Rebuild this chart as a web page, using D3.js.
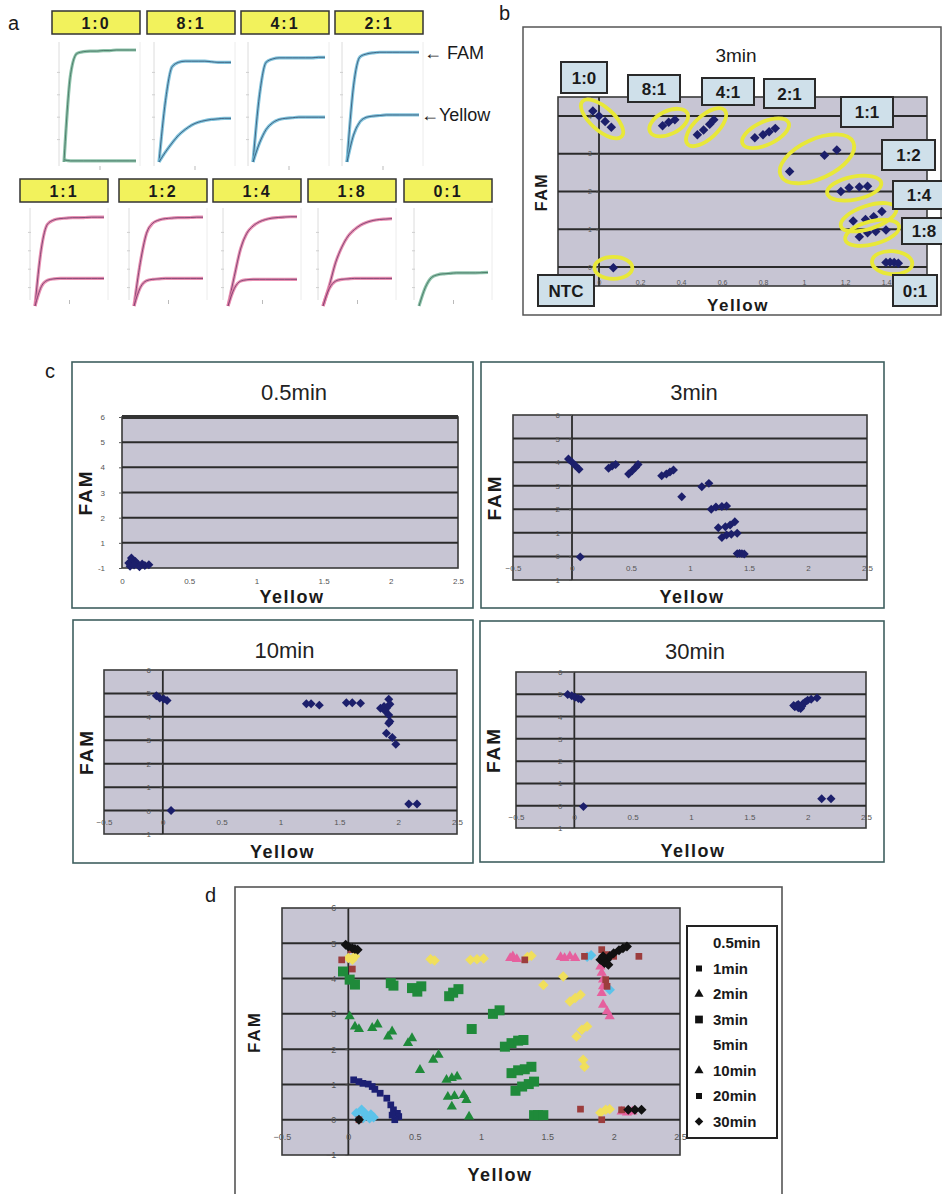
<!DOCTYPE html>
<html>
<head>
<meta charset="utf-8">
<script src="https://cdnjs.cloudflare.com/ajax/libs/d3/7.8.5/d3.min.js"></script>
<style>
  body { margin: 0; background: #fff; }
  svg { display: block; font-family: "Liberation Sans", Arial, sans-serif; }
</style>
</head>
<body>
<svg id="fig" width="942" height="1194"></svg>
<script>
// ---- panel a : amplification curves (normalised fluorescence, 12 reads) ----
const ratiosTop = ['1:0', '8:1', '4:1', '2:1'];
const ratiosBottom = ['1:1', '1:2', '1:4', '1:8', '0:1'];

const famTop = [
  [0, 0.78, 0.97, 0.985, 0.99, 0.99, 0.995, 0.995, 1, 1, 1, 1],
  [0, 0.55, 0.85, 0.89, 0.9, 0.9, 0.9, 0.9, 0.895, 0.89, 0.89, 0.89],
  [0, 0.6, 0.89, 0.92, 0.93, 0.93, 0.93, 0.93, 0.93, 0.93, 0.935, 0.935],
  [0, 0.68, 0.94, 0.965, 0.975, 0.98, 0.98, 0.98, 0.98, 0.98, 0.98, 0.98]
];
const yellowTop = [
  [0.02, 0.01, 0.01, 0.01, 0.01, 0.01, 0.01, 0.01, 0.01, 0.01, 0.01, 0.01],
  [0, 0.09, 0.17, 0.24, 0.29, 0.33, 0.355, 0.37, 0.38, 0.385, 0.39, 0.39],
  [0, 0.17, 0.29, 0.35, 0.38, 0.39, 0.395, 0.4, 0.4, 0.4, 0.4, 0.4],
  [0, 0.24, 0.36, 0.4, 0.41, 0.415, 0.42, 0.42, 0.42, 0.42, 0.42, 0.42]
];
const famBottom = [
  [0, 0.62, 0.89, 0.935, 0.95, 0.955, 0.96, 0.96, 0.962, 0.965, 0.965, 0.965],
  [0, 0.47, 0.79, 0.9, 0.935, 0.95, 0.955, 0.96, 0.96, 0.962, 0.965, 0.965],
  [0, 0.32, 0.62, 0.79, 0.87, 0.915, 0.94, 0.955, 0.962, 0.967, 0.97, 0.97],
  [0, 0.22, 0.47, 0.64, 0.76, 0.83, 0.88, 0.91, 0.93, 0.94, 0.945, 0.95],
  null
];
const yellowBottom = [
  [0, 0.21, 0.28, 0.295, 0.3, 0.3, 0.3, 0.3, 0.3, 0.3, 0.3, 0.3],
  [0, 0.2, 0.275, 0.29, 0.295, 0.3, 0.3, 0.3, 0.3, 0.3, 0.3, 0.3],
  [0, 0.19, 0.27, 0.285, 0.29, 0.29, 0.29, 0.29, 0.29, 0.29, 0.29, 0.29],
  [0, 0.19, 0.27, 0.29, 0.295, 0.3, 0.3, 0.3, 0.3, 0.3, 0.3, 0.3],
  [0, 0.2, 0.31, 0.34, 0.35, 0.355, 0.36, 0.36, 0.36, 0.36, 0.362, 0.365]
];

// ---- panel b / c : end-point scatter (Yellow, FAM) ----
const scatter05 = [[0.05, 0.2], [0.07, 0.4], [0.1, 0.26], [0.12, 0.13], [0.15, 0.16], [0.17, 0.1],
  [0.2, 0.13], [0.06, 0.07], [0.09, 0.12], [0.13, 0.05]];

const scatter3min = [
  [-0.03, 4.13, '1:0'], [0.0, 4.0, '1:0'], [0.03, 3.85, '1:0'], [0.06, 3.7, '1:0'],
  [0.31, 3.74, '8:1'], [0.34, 3.83, '8:1'], [0.37, 3.9, '8:1'],
  [0.48, 3.5, '4:1'], [0.51, 3.63, '4:1'], [0.54, 3.78, '4:1'], [0.56, 3.9, '4:1'],
  [0.76, 3.42, '2:1'], [0.8, 3.5, '2:1'], [0.83, 3.58, '2:1'], [0.86, 3.67, '2:1'],
  [0.93, 2.53, '1:1'], [1.1, 2.96, '1:1'], [1.16, 3.1, '1:1'],
  [1.18, 2.0, '1:2'], [1.22, 2.1, '1:2'], [1.27, 2.12, '1:2'], [1.31, 2.14, '1:2'],
  [1.24, 1.22, '1:4'], [1.3, 1.26, '1:4'], [1.34, 1.33, '1:4'], [1.38, 1.47, '1:4'],
  [1.27, 0.8, '1:8'], [1.31, 0.91, '1:8'], [1.35, 0.94, '1:8'], [1.4, 0.98, '1:8'],
  [1.4, 0.12, '0:1'], [1.42, 0.13, '0:1'], [1.44, 0.12, '0:1'], [1.46, 0.1, '0:1'],
  [0.07, -0.02, 'NTC']
];

const scatter10 = [[-0.055, 4.9], [-0.026, 4.8], [0.008, 4.76], [0.036, 4.7], [0.07, 0.0],
  [1.22, 4.56], [1.26, 4.56], [1.33, 4.5], [1.56, 4.6], [1.61, 4.6], [1.68, 4.58],
  [1.92, 4.75], [1.93, 4.54], [1.9, 4.37], [1.85, 4.37], [1.88, 4.44], [1.89, 4.25], [1.92, 4.08],
  [1.93, 3.8], [1.92, 3.73], [1.9, 3.3], [1.95, 3.12], [1.98, 2.83], [2.09, 0.28], [2.16, 0.28]];

const scatter30 = [[-0.057, 4.99], [-0.022, 4.93], [0.006, 4.87], [0.035, 4.81], [0.058, 4.78], [0.078, -0.04],
  [1.89, 4.44], [1.91, 4.51], [1.92, 4.54], [1.94, 4.36], [1.96, 4.58], [1.98, 4.66], [2.0, 4.73],
  [2.03, 4.78], [2.08, 4.84], [1.88, 4.5], [1.92, 4.4], [1.95, 4.46], [2.12, 0.31], [2.2, 0.31]];

// ---- panel d : all time points ----
const dSeries = ['0.5min', '1min', '2min', '3min', '5min', '10min', '20min', '30min'];
const d05 = [[0.06, 0.18], [0.1, 0.28], [0.14, 0.13], [0.16, 0.04], [0.11, 0.04], [0.08, 0.01], [0.19, 0.07],
  [0.12, 0.2], [0.17, 0.15], [1.8, 4.62], [1.83, 4.66], [1.97, 3.68]];
const d1 = [[0.04, 1.13], [0.08, 1.08], [0.11, 1.03], [0.15, 1.01], [0.18, 0.94], [0.2, 0.86], [0.24, 0.75],
  [0.29, 0.61], [0.32, 0.42], [0.34, 0.28], [0.37, 0.18], [0.38, 0.09], [0.35, 0.0], [0.33, 0.13]];
const d2 = [[0.01, 2.93], [0.05, 2.64], [0.08, 2.57], [0.18, 2.6], [0.22, 2.7], [0.3, 2.36], [0.33, 2.5],
  [0.45, 2.17], [0.48, 2.31], [0.54, 1.41], [0.64, 1.7], [0.68, 1.84], [0.74, 1.13], [0.78, 1.18], [0.82, 1.22],
  [0.75, 0.65], [0.8, 0.67], [0.87, 0.7], [0.89, 0.56], [0.78, 0.37], [0.91, 0.09]];
const d3min = [[-0.04, 4.2], [0.01, 3.97], [0.05, 3.83], [0.32, 3.87], [0.34, 3.8], [0.48, 3.73], [0.52, 3.63],
  [0.55, 3.78], [0.76, 3.5], [0.79, 3.6], [0.83, 3.7], [0.93, 2.57], [1.09, 3.0], [1.14, 3.1], [1.18, 2.07],
  [1.23, 2.17], [1.28, 2.24], [1.32, 2.26], [1.23, 1.32], [1.28, 1.4], [1.33, 1.43], [1.38, 1.5], [1.26, 0.82],
  [1.31, 0.94], [1.36, 1.01], [1.4, 1.08], [1.4, 0.13], [1.43, 0.13], [1.47, 0.13]];
const d5 = [[0.0, 4.58], [0.03, 4.53], [0.05, 4.63], [0.62, 4.55], [0.65, 4.51], [0.92, 4.53], [0.97, 4.55],
  [1.02, 4.57], [1.35, 4.61], [1.38, 4.65], [1.62, 4.06], [1.47, 3.82], [1.67, 3.35], [1.71, 3.45], [1.75, 3.54],
  [1.72, 2.36], [1.76, 2.55], [1.8, 2.64], [1.77, 1.7], [1.78, 1.5], [1.9, 0.2], [1.94, 0.28], [1.97, 0.3]];
const d10 = [[1.22, 4.58], [1.24, 4.63], [1.27, 4.55], [1.6, 4.61], [1.63, 4.58], [1.67, 4.63], [1.71, 4.58],
  [1.9, 4.34], [1.91, 4.16], [1.92, 3.97], [1.92, 3.78], [1.91, 3.59], [1.92, 3.26], [1.95, 3.07], [1.97, 2.93],
  [2.06, 0.23], [2.1, 0.2], [2.14, 0.23]];
const d20 = [[-0.05, 4.53], [0.03, 4.27], [0.02, 4.82], [1.33, 4.53], [1.78, 4.63], [1.75, 0.3], [1.91, 0.0],
  [1.91, 4.82], [1.95, 4.68], [2.0, 4.63], [1.94, 3.97], [1.95, 3.78], [2.19, 4.63], [2.06, 0.28], [0.08, 0.0]];
const d30 = [[-0.02, 4.96], [0.0, 4.91], [0.03, 4.86], [0.05, 4.84], [0.07, 4.82], [0.08, 0.0], [1.9, 4.53],
  [1.92, 4.49], [1.93, 4.44], [1.95, 4.53], [1.97, 4.63], [2.0, 4.72], [2.04, 4.8], [2.07, 4.86], [2.1, 4.91],
  [1.92, 4.63], [1.96, 4.39], [2.11, 0.28], [2.16, 0.28], [2.21, 0.28]];

const xTicksC = [-0.5, 0, 0.5, 1, 1.5, 2, 2.5];
const xTicks05 = [0, 0.5, 1, 1.5, 2, 2.5];
const yTicksC = [-1, 0, 1, 2, 3, 4, 5, 6];
const yLabels05 = ['-1', '1', '2', '3', '4', '5', '6'];
const xTicksB = [0, 0.2, 0.4, 0.6, 0.8, 1, 1.2, 1.4];

// ---- styles ----
const svg = d3.select('#fig');
const PLOT_FILL = '#c7c5d3';
const GRID = '#2b2b2b';
const DOT = '#1c1f6b';
const dColors = ['#5cc3ea', '#1b1f73', '#1f8a3a', '#1f8a3a', '#f0df5c', '#e6609e', '#9c3d3d', '#111111'];
const dSymbols = ['diamond', 'square', 'triangle', 'square', 'diamond', 'triangle', 'square', 'diamond'];
const dSizes = [55, 45, 45, 100, 55, 45, 45, 50];
const legendMarks = [null, 'square', 'triangle', 'square', null, 'triangle', 'square', 'diamond'];
// Excel style diamond = square turned 45 degrees
const symbolMap = { square: d3.symbolSquare, triangle: d3.symbolTriangle, diamond: d3.symbolSquare };
const symbolTurn = { square: 0, triangle: 0, diamond: 45 };

function label(g, txt, x, y, size, opts = {}) {
  const t = g.append('text').text(txt).attr('x', x).attr('y', y)
    .attr('font-size', size).attr('fill', opts.fill || '#1a1a1a')
    .attr('text-anchor', opts.anchor || 'start')
    .attr('font-weight', opts.bold ? 'bold' : 'normal');
  if (opts.spacing) t.attr('letter-spacing', opts.spacing);
  if (opts.rotate) t.attr('transform', `rotate(-90,${x},${y})`);
  return t;
}

// panel letters
label(svg, 'a', 8, 30, 20);
label(svg, 'b', 499, 20, 20);
label(svg, 'c', 45, 378, 20);
label(svg, 'd', 205, 902, 20);

// ================= panel a =================
const ga = svg.append('g');
function ampPanel(name, boxX, boxY, fam, yel, layout, colour) {
  ga.append('rect').attr('x', boxX).attr('y', boxY).attr('width', 88).attr('height', 23)
    .attr('fill', '#f2f25c').attr('stroke', '#333').attr('stroke-width', 1.5);
  label(ga, name, boxX + 44, boxY + 18, 16, { anchor: 'middle', bold: true, spacing: 2 });

  const x0 = boxX + layout.dx0, x1 = boxX + layout.dx1;
  const x = d3.scaleLinear().domain([0, 11]).range([x0, x1]);
  const y = d3.scaleLinear().domain([0, 1]).range([layout.base, layout.top]);
  // faint frame of the small chart
  ga.append('line').attr('x1', x0 - 5).attr('x2', x0 - 5).attr('y1', layout.frameTop).attr('y2', layout.frameBot)
    .attr('stroke', '#dcdcdc');
  ga.append('line').attr('x1', x1 + 4).attr('x2', x1 + 4).attr('y1', layout.frameTop).attr('y2', layout.frameBot)
    .attr('stroke', '#ececec');
  ga.selectAll(null).data([0.2, 0.4, 0.6, 0.8]).join('line')
    .attr('x1', x0 - 7).attr('x2', x0 - 4).attr('y1', d => y(d)).attr('y2', d => y(d))
    .attr('stroke', '#cfcfcf');
  ga.append('line').attr('x1', (x0 + x1) / 2).attr('x2', (x0 + x1) / 2)
    .attr('y1', layout.frameBot).attr('y2', layout.frameBot + 4).attr('stroke', '#bbb');

  const line = d3.line().x((d, i) => x(i)).y(d => y(d)).curve(d3.curveMonotoneX);
  [fam, yel].filter(s => s).forEach(s => {
    ga.append('path').attr('d', line(s)).attr('fill', 'none')
      .attr('stroke', colour[0]).attr('stroke-width', 3.2).attr('opacity', 0.85);
    ga.append('path').attr('d', line(s)).attr('fill', 'none')
      .attr('stroke', colour[1]).attr('stroke-width', 1).attr('opacity', 0.8);
  });
}
const BLUE = ['#6cb8d6', '#2f4f6f'], GREEN = ['#7ab89c', '#3d6b5a'], PINK = ['#e47ea6', '#6b3566'];
const topLayout = { dx0: 12, dx1: 84, base: 162, top: 50, frameTop: 42, frameBot: 166 };
const botLayout = { dx0: 15, dx1: 84, base: 306, top: 214, frameTop: 208, frameBot: 300 };
const topBoxX = [52, 147, 241, 335];
const botBoxX = [20, 119, 213, 308, 404];
ratiosTop.forEach((r, i) => ampPanel(r, topBoxX[i], 11, famTop[i], yellowTop[i], topLayout, i === 0 ? GREEN : BLUE));
ratiosBottom.forEach((r, i) => ampPanel(r, botBoxX[i], 179, famBottom[i], yellowBottom[i], botLayout, i === 4 ? GREEN : PINK));
label(ga, '\u2190 FAM', 424, 59, 18);
label(ga, '\u2190Yellow', 421, 121, 18);

// ================= scatter helper =================
function scatterPlot(g, o) {
  const x = d3.scaleLinear().domain(o.xDom).range([o.left, o.right]);
  const y = d3.scaleLinear().domain(o.yDom).range([o.bottom, o.top]);
  g.append('rect').attr('x', o.left).attr('y', o.top).attr('width', o.right - o.left)
    .attr('height', o.bottom - o.top).attr('fill', PLOT_FILL).attr('stroke', '#3a3a3a').attr('stroke-width', 1.6);
  g.selectAll(null).data(o.grid).join('line')
    .attr('x1', o.left).attr('x2', o.right).attr('y1', d => y(d)).attr('y2', d => y(d))
    .attr('stroke', GRID).attr('stroke-width', 2);
  if (o.thickTop) {
    g.append('line').attr('x1', o.left).attr('x2', o.right).attr('y1', o.top).attr('y2', o.top)
      .attr('stroke', '#333').attr('stroke-width', 4);
  }
  const yAxisX = o.xDom[0] < 0 ? x(0) : o.left;
  if (o.xDom[0] < 0) {
    g.append('line').attr('x1', yAxisX).attr('x2', yAxisX).attr('y1', o.top).attr('y2', o.bottom)
      .attr('stroke', GRID).attr('stroke-width', 1.8);
  }
  // axes (labels only, small grey as in the scan)
  const ax = g.append('g').attr('transform', `translate(0,${o.xLabelY})`)
    .call(d3.axisBottom(x).tickValues(o.xTicks).tickSize(0).tickPadding(0)
      .tickFormat(o.xFormat || d3.format('')));
  const ay = g.append('g').attr('transform', `translate(${yAxisX},0)`)
    .call(d3.axisLeft(y).tickValues(o.yTicks).tickSize(o.yTickSize || 3).tickPadding(o.yPad || 4)
      .tickFormat(o.yFormat || d3.format('')));
  [ax, ay].forEach(a => {
    a.select('.domain').remove();
    a.selectAll('text').attr('font-size', o.tickFont || 8).attr('fill', '#555')
      .attr('font-family', '"Liberation Sans", Arial, sans-serif');
    a.selectAll('line').attr('stroke', '#555');
  });
  ax.selectAll('text').attr('dy', '0.35em');
  return { x, y };
}

function dots(g, sc, pts, colour, sym, size) {
  g.selectAll(null).data(pts).join('path')
    .attr('d', d3.symbol().type(symbolMap[sym]).size(size))
    .attr('transform', d => `translate(${sc.x(d[0])},${sc.y(d[1])}) rotate(${symbolTurn[sym]})`)
    .attr('fill', colour);
}

// ================= panel b =================
const gb = svg.append('g');
gb.append('rect').attr('x', 523).attr('y', 27).attr('width', 418).attr('height', 288)
  .attr('fill', '#fff').attr('stroke', '#555').attr('stroke-width', 1.5);
label(gb, '3min', 736, 62, 19, { anchor: 'middle' });
const sb = scatterPlot(gb, {
  left: 558, right: 927, top: 97, bottom: 286, xDom: [-0.2, 1.6], yDom: [-0.5, 4.5],
  grid: [0, 1, 2, 3, 4], xTicks: xTicksB, yTicks: [0, 1, 2, 3, 4], xLabelY: 283, tickFont: 7
});
dots(gb, sb, scatter3min, DOT, 'diamond', 45);
// yellow ellipses round each ratio cluster
d3.groups(scatter3min, d => d[2]).forEach(([name, pts]) => {
  const px = pts.map(p => [sb.x(p[0]), sb.y(p[1])]);
  const cx = d3.mean(px, p => p[0]), cy = d3.mean(px, p => p[1]);
  let ang = 0, rx = 19, ry = 11;
  if (px.length > 1) {
    let best = [px[0], px[1]], bd = 0;
    px.forEach(a => px.forEach(b => {
      const dd = Math.hypot(a[0] - b[0], a[1] - b[1]);
      if (dd > bd) { bd = dd; best = a[0] < b[0] ? [a, b] : [b, a]; }
    }));
    ang = Math.atan2(best[1][1] - best[0][1], best[1][0] - best[0][0]) * 180 / Math.PI;
    rx = bd / 2 + 14; ry = Math.max(11.5, bd * 0.38);
  }
  gb.append('ellipse').attr('cx', cx).attr('cy', cy).attr('rx', rx).attr('ry', ry)
    .attr('transform', `rotate(${ang},${cx},${cy})`)
    .attr('fill', 'none').attr('stroke', '#e8e838').attr('stroke-width', 3.8);
});
const bBoxes = [
  { t: '1:0', x: 561, y: 62, w: 46, h: 31 }, { t: '8:1', x: 628, y: 75, w: 52, h: 27 },
  { t: '4:1', x: 702, y: 78, w: 52, h: 27 }, { t: '2:1', x: 764, y: 79, w: 51, h: 29 },
  { t: '1:1', x: 841, y: 97, w: 52, h: 30 }, { t: '1:2', x: 882, y: 140, w: 53, h: 30 },
  { t: '1:4', x: 893, y: 181, w: 52, h: 28 }, { t: '1:8', x: 902, y: 218, w: 44, h: 26 },
  { t: '0:1', x: 893, y: 275, w: 44, h: 31 }, { t: 'NTC', x: 538, y: 275, w: 56, h: 31 }
];
bBoxes.forEach(b => {
  gb.append('rect').attr('x', b.x).attr('y', b.y).attr('width', b.w).attr('height', b.h)
    .attr('fill', '#cfe0ea').attr('stroke', '#2a2a2a').attr('stroke-width', 2);
  label(gb, b.t, b.x + b.w / 2, b.y + b.h / 2 + 6, 17, { anchor: 'middle', bold: true });
});
label(gb, 'FAM', 547, 192, 16, { anchor: 'middle', bold: true, rotate: true, spacing: 1.5 });
label(gb, 'Yellow', 738, 311, 17, { anchor: 'middle', bold: true, spacing: 1.5 });

// ================= panel c =================
function cPanel(box, title, plot, pts, extra) {
  const g = svg.append('g');
  g.append('rect').attr('x', box[0]).attr('y', box[1]).attr('width', box[2] - box[0]).attr('height', box[3] - box[1])
    .attr('fill', '#fff').attr('stroke', '#3f5f5f').attr('stroke-width', 1.6);
  label(g, title, (plot.left + plot.right) / 2 + 4, box[1] + 38, 22, { anchor: 'middle', fill: '#222' });
  const sc = scatterPlot(g, Object.assign({}, plot, extra));
  dots(g, sc, pts, DOT, 'diamond', 40);
  label(g, 'FAM', box[0] + 20, (plot.top + plot.bottom) / 2, 19, { anchor: 'middle', bold: true, rotate: true, spacing: 2 });
  label(g, 'Yellow', (plot.left + plot.right) / 2 + 2, box[3] - 5, 18, { anchor: 'middle', bold: true, spacing: 1.5 });
}
const cCommon = { xDom: [-0.5, 2.5], yDom: [-1, 6], grid: [0, 1, 2, 3, 4, 5], xTicks: xTicksC, yTicks: yTicksC, yTickSize: 0, yPad: 9, tickFont: 8 };
cPanel([72, 362, 473, 608], '0.5min', { left: 122, right: 458, top: 417, bottom: 568 }, scatter05,
  { xDom: [0, 2.5], yDom: [0, 6], grid: [1, 2, 3, 4, 5], xTicks: xTicks05, yTicks: [0, 1, 2, 3, 4, 5, 6],
    yFormat: (d, i) => yLabels05[i], yTickSize: 0, yPad: 14, xLabelY: 581, thickTop: true, tickFont: 8 });
cPanel([481, 362, 884, 608], '3min', { left: 513, right: 867, top: 415, bottom: 580 }, scatter3min,
  Object.assign({}, cCommon, { xLabelY: 568 }));
cPanel([73, 620, 473, 863], '10min', { left: 104, right: 457, top: 670, bottom: 834 }, scatter10,
  Object.assign({}, cCommon, { xLabelY: 822 }));
cPanel([480, 621, 884, 862], '30min', { left: 516, right: 866, top: 672, bottom: 828 }, scatter30,
  Object.assign({}, cCommon, { xLabelY: 817 }));

// ================= panel d =================
const gd = svg.append('g');
gd.append('rect').attr('x', 235).attr('y', 887).attr('width', 547).attr('height', 320)
  .attr('fill', '#fff').attr('stroke', '#555').attr('stroke-width', 1.6);
const sd = scatterPlot(gd, Object.assign({}, cCommon, {
  left: 282, right: 680, top: 908, bottom: 1155, xLabelY: 1137, tickFont: 9
}));
[d05, d1, d2, d3min, d5, d10, d20, d30].forEach((pts, i) => dots(gd, sd, pts, dColors[i], dSymbols[i], dSizes[i]));
label(gd, 'FAM', 260, 1032, 17, { anchor: 'middle', bold: true, rotate: true, spacing: 2 });
label(gd, 'Yellow', 500, 1181, 18, { anchor: 'middle', bold: true, spacing: 1.5 });

const lg = gd.append('g');
lg.append('rect').attr('x', 687).attr('y', 926).attr('width', 90).attr('height', 212)
  .attr('fill', '#fff').attr('stroke', '#222').attr('stroke-width', 2);
dSeries.forEach((s, i) => {
  const yy = 943 + i * 25.5;
  const m = legendMarks[i];
  if (m) {
    lg.append('path').attr('d', d3.symbol().type(symbolMap[m]).size(i === 3 ? 60 : 36))
      .attr('transform', `translate(699,${yy}) rotate(${symbolTurn[m]})`).attr('fill', '#111');
  }
  label(lg, s, 713, yy + 5, 15, { bold: true });
});
</script>
</body>
</html>
